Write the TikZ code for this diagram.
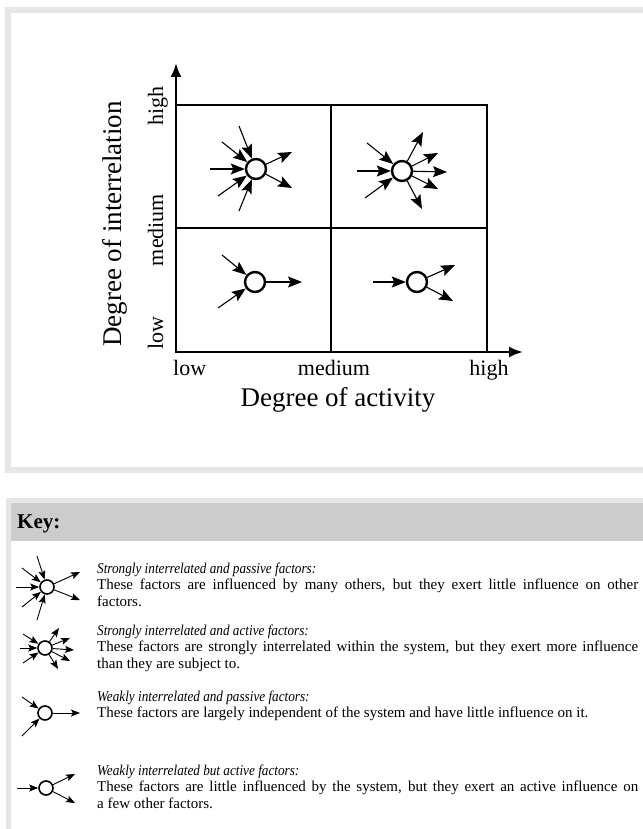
\documentclass[tikz,border=0pt]{standalone}
\usepackage{fontspec}
\setmainfont{Liberation Serif}
\newfontfamily\keyitalfam[FakeStretch=0.88]{Liberation Serif}
\usetikzlibrary{arrows.meta}
\definecolor{panelborder}{HTML}{E6E6E6}
\definecolor{keyhead}{HTML}{CCCCCC}
\newcommand{\keyhd}[1]{{\keyitalfam\itshape #1}}
\tikzset{
  cellline/.style={line width=2.4pt},
  axisarrow/.style={line width=2.4pt,-{Latex[length=14pt,width=11pt]}},
  factor/.style={circle,draw,line width=2.4pt,minimum size=20pt,inner sep=0pt,fill=white},
  keyfactor/.style={circle,draw,line width=1.6pt,minimum size=14pt,inner sep=0pt,fill=white},
  flow/.style={line width=1.1pt,-{Stealth[length=14pt,width=11pt,inset=2.5pt]}},
  keyflow/.style={line width=0.9pt,-{Stealth[length=9pt,width=7pt,inset=1.8pt]}},
  ticklabel/.style={font=\fontsize{22}{24}\selectfont,inner sep=0pt},
  axistitle/.style={font=\fontsize{27}{30}\selectfont,inner sep=0pt},
  keytext/.style={font=\fontsize{15}{16.5}\selectfont,text width=541pt,align=justify,inner sep=0pt,anchor=base west},
}
\begin{document}
\begin{tikzpicture}[x=1pt,y=-1pt]
\useasboundingbox (0,0) rectangle (642,829);
% top panel
\draw[panelborder,line width=6pt] (8,10) rectangle (700,470);
% key panel
\fill[panelborder] (6,498) rectangle (700,860);
\fill[white] (11,503) rectangle (700,860);
\fill[keyhead] (11,503) rectangle (700,541);
\node[font=\fontsize{21}{23}\selectfont\bfseries,inner sep=0pt,anchor=base west] (keytitle) at (17,528) {Key:};

% chart grid
\draw[cellline] (176,105) rectangle (487,352);
\draw[cellline] (331,105) -- (331,352);
\draw[cellline] (176,228) -- (487,228);
\coordinate (O) at (176,352);
\coordinate (ytip) at (176,63);
\coordinate (xtip) at (523,352);
\draw[axisarrow] (O) -- (ytip);
\draw[axisarrow] (O) -- (xtip);

% tick labels
\node[ticklabel,anchor=base west] (xlow) at (173,375) {low};
\node[ticklabel,anchor=base] (xmed) at (334,375) {medium};
\node[ticklabel,anchor=base] (xhigh) at (489,375) {high};
\node[ticklabel,rotate=90,anchor=base west] (ylow) at (163,350) {low};
\node[ticklabel,rotate=90,anchor=base] (ymed) at (163,230) {medium};
\node[ticklabel,rotate=90,anchor=base] (yhigh) at (163,106) {high};
\node[axistitle,anchor=base] (xtitle) at (338,406) {Degree of activity};
\node[axistitle,rotate=90,anchor=base] (ytitle) at (121,224) {Degree of interrelation};

% factors in the chart
\node[factor] (A) at (256,169) {};
\node[factor] (B) at (402,171) {};
\node[factor] (C) at (255,282) {};
\node[factor] (D) at (417,282) {};

% A: strongly interrelated, passive
\coordinate (a1) at (210,169);
\coordinate (a2) at (222,142);
\coordinate (a3) at (239,126);
\coordinate (a4) at (218,196);
\coordinate (a5) at (239,211);
\coordinate (a6) at (292,152);
\coordinate (a7) at (292,188);
\foreach \c in {a1,a2,a3,a4,a5} \draw[flow] (\c) -- (A);
\foreach \c in {a6,a7} \draw[flow] (A) -- (\c);

% B: strongly interrelated, active
\coordinate (b1) at (367,143);
\coordinate (b2) at (357,171);
\coordinate (b3) at (365,198);
\coordinate (b4) at (423,132);
\coordinate (b5) at (438,153);
\coordinate (b6) at (447,172);
\coordinate (b7) at (438,189);
\coordinate (b8) at (422,209);
\foreach \c in {b1,b2,b3} \draw[flow] (\c) -- (B);
\foreach \c in {b4,b5,b6,b7,b8} \draw[flow] (B) -- (\c);

% C: weakly interrelated, passive
\coordinate (c1) at (222,255);
\coordinate (c2) at (218,308);
\coordinate (c3) at (302,282);
\foreach \c in {c1,c2} \draw[flow] (\c) -- (C);
\draw[flow] (C) -- (c3);

% D: weakly interrelated, active
\coordinate (d1) at (373,282);
\coordinate (d2) at (455,265);
\coordinate (d3) at (453,301);
\draw[flow] (d1) -- (D);
\foreach \c in {d2,d3} \draw[flow] (D) -- (\c);

% key icons
\node[keyfactor] (K1) at (47,587) {};
\coordinate (k11) at (37,556);
\coordinate (k12) at (22,568);
\coordinate (k13) at (16,587);
\coordinate (k14) at (22,607);
\coordinate (k15) at (37,620);
\coordinate (k16) at (80,572);
\coordinate (k17) at (80,600);
\foreach \c in {k11,k12,k13,k14,k15} \draw[keyflow] (\c) -- (K1);
\foreach \c in {k16,k17} \draw[keyflow] (K1) -- (\c);

\node[keyfactor] (K2) at (45,648) {};
\coordinate (k21) at (23,634);
\coordinate (k22) at (20,648);
\coordinate (k23) at (23,663);
\coordinate (k24) at (59,628);
\coordinate (k25) at (70,638);
\coordinate (k26) at (74,650);
\coordinate (k27) at (70,661);
\coordinate (k28) at (58,669);
\foreach \c in {k21,k22,k23} \draw[keyflow] (\c) -- (K2);
\foreach \c in {k24,k25,k26,k27,k28} \draw[keyflow] (K2) -- (\c);

\node[keyfactor] (K3) at (45,713) {};
\coordinate (k31) at (22,697);
\coordinate (k32) at (22,736);
\coordinate (k33) at (80,713);
\foreach \c in {k31,k32} \draw[keyflow] (\c) -- (K3);
\draw[keyflow] (K3) -- (k33);

\node[keyfactor] (K4) at (46,788) {};
\coordinate (k41) at (17,788);
\coordinate (k42) at (75,774);
\coordinate (k43) at (75,803);
\draw[keyflow] (k41) -- (K4);
\foreach \c in {k42,k43} \draw[keyflow] (K4) -- (\c);

% key texts
\node[keytext] (t1) at (97,573) {\keyhd{Strongly interrelated and passive factors:}\\
These factors are influenced by many others, but they exert little influence on other\linebreak factors.};
\node[keytext] (t2) at (97,635) {\keyhd{Strongly interrelated and active factors:}\\
These factors are strongly interrelated within the system, but they exert more influence\linebreak than they are subject to.};
\node[keytext] (t3) at (97,701) {\keyhd{Weakly interrelated and passive factors:}\\
These factors are largely independent of the system and have little influence on it.};
\node[keytext] (t4) at (97,775) {\keyhd{Weakly interrelated but active factors:}\\
These factors are little influenced by the system, but they exert an active influence on\linebreak a few other factors.};
\end{tikzpicture}
\end{document}
